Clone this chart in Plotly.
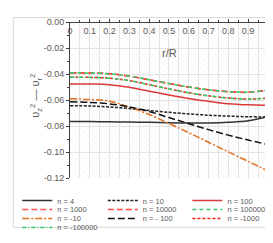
import plotly.graph_objects as go

# ---------------- data ----------------
r_over_R = [0.0, 0.1, 0.2, 0.3, 0.4, 0.5, 0.6, 0.7, 0.8, 0.9, 1.0]

n_4 = [-0.0765, -0.0766, -0.0768, -0.0770, -0.0772, -0.0775, -0.0777, -0.0777, -0.0772, -0.0760, -0.0728]
n_10 = [-0.0644, -0.0646, -0.0654, -0.0666, -0.0681, -0.0695, -0.0707, -0.0717, -0.0724, -0.0729, -0.0731]
n_100 = [-0.0476, -0.0477, -0.0482, -0.0502, -0.0532, -0.0561, -0.0588, -0.0610, -0.0628, -0.0637, -0.0641]
n_1000 = [-0.0392, -0.0393, -0.0399, -0.0417, -0.0445, -0.0474, -0.0501, -0.0522, -0.0536, -0.0541, -0.0525]
n_10000 = [-0.0391, -0.0392, -0.0398, -0.0416, -0.0444, -0.0473, -0.0500, -0.0521, -0.0535, -0.0540, -0.0524]
n_100000 = [-0.0391, -0.0392, -0.0398, -0.0416, -0.0444, -0.0473, -0.0500, -0.0521, -0.0535, -0.0540, -0.0524]
n_m10 = [-0.0591, -0.0596, -0.0610, -0.0655, -0.0712, -0.0780, -0.0852, -0.0925, -0.0999, -0.1072, -0.1145]
n_m100 = [-0.0614, -0.0619, -0.0630, -0.0653, -0.0688, -0.0735, -0.0782, -0.0828, -0.0870, -0.0908, -0.0943]
n_m1000 = [-0.0425, -0.0426, -0.0432, -0.0451, -0.0482, -0.0515, -0.0545, -0.0568, -0.0585, -0.0592, -0.0586]
n_m100000 = [-0.0425, -0.0426, -0.0432, -0.0451, -0.0482, -0.0515, -0.0545, -0.0568, -0.0585, -0.0592, -0.0586]

series_names = ["n = 4", "n = 10", "n = 100", "n = 1000", "n = 10000", "n = 100000",
                "n = -10", "n = - 100", "n = -1000", "n = -100000"]
series_values = [n_4, n_10, n_100, n_1000, n_10000, n_100000, n_m10, n_m100, n_m1000, n_m100000]

y_tick_vals = [0.0, -0.02, -0.04, -0.06, -0.08, -0.10, -0.12]
y_tick_text = ["0.00", "-0.02", "-0.04", "-0.06", "-0.08", "-0.10", "-0.12"]
x_tick_vals = [0, 0.1, 0.2, 0.3, 0.4, 0.5, 0.6, 0.7, 0.8, 0.9, 1]
x_tick_text = ["0", "0.1", "0.2", "0.3", "0.4", "0.5", "0.6", "0.7", "0.8", "0.9", "1"]

# ---------------- styles ----------------
styles = [
    dict(color="#333333", dash="solid"),
    dict(color="#222222", dash="3px,1.5px"),
    dict(color="#DC3A3A", dash="solid"),
    dict(color="#FF5555", dash="6px,3px"),
    dict(color="#FF4444", dash="6px,3px"),
    dict(color="#33CC66", dash="4px,3px"),
    dict(color="#E2701F", dash="7px,2px,2px,2px"),
    dict(color="#111111", dash="7px,3px"),
    dict(color="#FF1A1A", dash="3px,2px"),
    dict(color="#33CC66", dash="4px,2px,1px,2px"),
]

W, H = 273, 243
ML, MR, MT, MB = 61, 13, 9, 60
PW, PH = W - ML - MR, H - MT - MB


def px_x(px):
    return (px - ML) / PW


def px_y(py):
    return 1 - (py - MT) / PH


TXT = "#595959"
FONT = "Liberation Sans, Arial, sans-serif"

fig = go.Figure()

# hatched plot-area background
fig.add_trace(go.Scatter(
    x=[0, 1, 1, 0, 0], y=[0, 0, -0.12, -0.12, 0], mode="lines",
    line=dict(width=0), fill="toself", fillcolor="rgba(0,0,0,0)",
    fillpattern=dict(shape="\\", fgcolor="#dcdcdc", bgcolor="rgba(0,0,0,0)", size=4, solidity=0.15),
    showlegend=False, hoverinfo="skip"))

# legend grid
col_px = [14, 100, 185]
row_px = [202, 212, 222, 232]
for i, (name, vals, st) in enumerate(zip(series_names, series_values, styles)):
    lg = "legend" if i == 0 else f"legend{i + 1}"
    fig.add_trace(go.Scatter(
        x=r_over_R, y=vals, name=name, mode="lines",
        line=dict(color=st["color"], dash=st["dash"], width=1.5, shape="spline", smoothing=1.0),
        legend=lg, showlegend=True))
    col, row = i % 3, i // 3
    fig.update_layout({lg: dict(
        x=px_x(col_px[col] - 6), y=px_y(row_px[row] - 10), xanchor="left", yanchor="top",
        bgcolor="rgba(0,0,0,0)", borderwidth=0,
        font=dict(size=7.5, color=TXT, family=FONT), itemwidth=30)})

fig.update_layout(
    width=W, height=H,
    margin=dict(l=ML, r=MR, t=MT, b=MB),
    paper_bgcolor="white", plot_bgcolor="white",
    font=dict(family=FONT, size=9, color=TXT),
    xaxis=dict(
        range=[0, 1.0005], side="bottom", anchor="free", position=1,
        showline=True, linecolor="#404040", linewidth=1,
        ticks="inside", ticklen=3, tickcolor="#404040",
        tickvals=x_tick_vals, ticktext=x_tick_text,
        ticklabeloverflow="allow",
        tickfont=dict(size=9, color=TXT),
        showgrid=True, gridcolor="#e4e4e4", gridwidth=1,
        minor=dict(dtick=0.05, ticks="inside", ticklen=2, tickcolor="#404040", showgrid=True, gridcolor="#e4e4e4"),
        zeroline=False, mirror=False,
    ),
    yaxis=dict(
        range=[-0.12, 0], showline=True, linecolor="#404040", linewidth=1,
        ticks="outside", ticklen=3, tickcolor="#404040",
        tickvals=y_tick_vals, ticktext=y_tick_text,
        ticklabeloverflow="allow",
        tickfont=dict(size=9, color=TXT),
        showgrid=True, gridcolor="#e4e4e4", gridwidth=1,
        minor=dict(dtick=0.01, ticks="outside", ticklen=2, tickcolor="#404040", showgrid=False),
        zeroline=False,
    ),
    annotations=[
        dict(text="r/R", x=0.5, y=px_y(35), xref="paper", yref="paper", showarrow=False,
             font=dict(size=11, color=TXT, family=FONT)),
        dict(text="υ<sub>z</sub><sup>2</sup> — υ<sub>r</sub><sup>2</sup>", x=px_x(16), y=px_y(91),
             xref="paper", yref="paper", showarrow=False, textangle=-90,
             font=dict(size=11, color=TXT, family=FONT)),
    ],
    shapes=[dict(type="rect", xref="paper", yref="paper",
                 x0=px_x(4), x1=px_x(269), y0=px_y(238), y1=px_y(4),
                 line=dict(color="#d9d9d9", width=1), layer="below")],
)

fig.write_html("out.html")
